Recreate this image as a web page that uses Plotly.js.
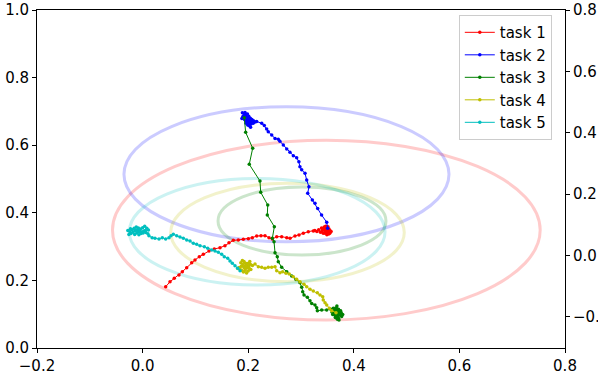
<!DOCTYPE html>
<html>
<head>
<meta charset="utf-8">
<script src="https://cdn.plot.ly/plotly-3.0.1.min.js"></script>
<style>
  html, body { margin: 0; padding: 0; background: #fff; }
  #wykres { width: 598px; height: 376px; }
</style>
</head>
<body>
<div id="wykres"></div>
<script>
// --- dane: trajektorie zadan ---
const nazwy = ["task 1", "task 2", "task 3", "task 4", "task 5"];
const kolory = ["#ff0000", "#0000ff", "#008000", "#bfbf00", "#00bfbf"];

const t1_x = [0.0437, 0.0519, 0.0600, 0.0689, 0.0752, 0.0835, 0.0930, 0.0992, 0.1074, 0.1150, 0.1258, 0.1358,
  0.1466, 0.1560, 0.1636, 0.1718, 0.1813, 0.1908, 0.2002, 0.2078, 0.2161, 0.2242, 0.2318, 0.2394, 0.2457,
  0.2540, 0.2634, 0.2730, 0.2792, 0.2886, 0.2962, 0.3044, 0.3138, 0.3233,
  0.3262, 0.3301, 0.3335, 0.3368, 0.3402, 0.3389, 0.3431, 0.3455, 0.3420, 0.3478, 0.3502, 0.3467, 0.3440,
  0.3512, 0.3540, 0.3525, 0.3490, 0.3455, 0.3480, 0.3515, 0.3548, 0.3570, 0.3545, 0.3505, 0.3470, 0.3495,
  0.3460, 0.3510, 0.3530, 0.3500];
const t1_y = [0.1814, 0.1960, 0.2060, 0.2160, 0.2258, 0.2377, 0.2525, 0.2604, 0.2700, 0.2770, 0.2870, 0.2930,
  0.2968, 0.3027, 0.3116, 0.3186, 0.3195, 0.3215, 0.3235, 0.3264, 0.3314, 0.3323, 0.3323, 0.3264, 0.3225,
  0.3294, 0.3294, 0.3264, 0.3245, 0.3314, 0.3343, 0.3393, 0.3441, 0.3462,
  0.3480, 0.3445, 0.3502, 0.3421, 0.3478, 0.3550, 0.3512, 0.3440, 0.3395, 0.3490, 0.3560, 0.3605, 0.3580,
  0.3455, 0.3410, 0.3372, 0.3350, 0.3392, 0.3432, 0.3500, 0.3480, 0.3445, 0.3395, 0.3420, 0.3470, 0.3530,
  0.3545, 0.3590, 0.3520, 0.3470];

const t2_x = [0.3505, 0.3487, 0.3390, 0.3316, 0.3265, 0.3215, 0.3127, 0.3150, 0.3108, 0.3076, 0.3013, 0.2980,
  0.2960, 0.2918, 0.2855, 0.2790, 0.2730, 0.2665, 0.2600, 0.2570, 0.2508, 0.2445, 0.2380, 0.2350, 0.2305,
  0.2256, 0.2160,
  0.2050, 0.2020, 0.1990, 0.1960, 0.1930, 0.1880, 0.1900, 0.1950, 0.1985, 0.2010, 0.2040, 0.2070, 0.2100,
  0.2130, 0.2095, 0.2060, 0.2000, 0.1970, 0.1925, 0.1890, 0.1940, 0.1995, 0.2030, 0.2005, 0.1975, 0.2015,
  0.2045, 0.1990, 0.1960, 0.1980];
const t2_y = [0.3540, 0.3720, 0.3935, 0.4130, 0.4280, 0.4380, 0.4577, 0.4770, 0.4970, 0.5170, 0.5270, 0.5360,
  0.5510, 0.5630, 0.5690, 0.5790, 0.5890, 0.6006, 0.6120, 0.6175, 0.6200, 0.6300, 0.6400, 0.6480, 0.6580,
  0.6650, 0.6700,
  0.6620, 0.6680, 0.6650, 0.6710, 0.6760, 0.6790, 0.6850, 0.6880, 0.6920, 0.6860, 0.6800, 0.6760, 0.6720,
  0.6690, 0.6650, 0.6700, 0.6760, 0.6820, 0.6900, 0.6960, 0.6970, 0.6800, 0.6740, 0.6700, 0.6740, 0.6580,
  0.6530, 0.6600, 0.6650, 0.6720];

const t3_x = [0.1926, 0.1952, 0.2085, 0.2020, 0.2223, 0.2237, 0.2370, 0.2362, 0.2495, 0.2457, 0.2489, 0.2508,
  0.2551, 0.2570, 0.2634, 0.2730, 0.2824, 0.2905, 0.2980, 0.3013, 0.3032, 0.3057, 0.3120, 0.3170, 0.3203,
  0.3265, 0.3297, 0.3310, 0.3392, 0.3487, 0.3562, 0.3612,
  0.3590, 0.3620, 0.3650, 0.3680, 0.3710, 0.3700, 0.3730, 0.3760, 0.3720, 0.3690, 0.3660, 0.3640, 0.3670,
  0.3700, 0.3740, 0.3770, 0.3790, 0.3750, 0.3710, 0.3680, 0.3630, 0.3600, 0.3650, 0.3690, 0.3720, 0.3700,
  0.3680, 0.3710];
const t3_y = [0.6810, 0.6380, 0.5910, 0.5435, 0.4940, 0.4606, 0.4230, 0.3935, 0.3590, 0.3245, 0.3146, 0.2820,
  0.2700, 0.2554, 0.2387, 0.2258, 0.2130, 0.2030, 0.1930, 0.1795, 0.1666, 0.1568, 0.1500, 0.1400, 0.1320,
  0.1270, 0.1190, 0.1100, 0.1124, 0.1124, 0.1144, 0.1174,
  0.1060, 0.1010, 0.0960, 0.0920, 0.0880, 0.0960, 0.1010, 0.1050, 0.1090, 0.1120, 0.1180, 0.1090, 0.1040,
  0.1030, 0.0970, 0.0930, 0.0990, 0.1100, 0.1150, 0.1240, 0.1150, 0.0990, 0.0900, 0.0850, 0.0830, 0.1000,
  0.1060, 0.1030];

const t4_x = [0.3663, 0.3582, 0.3536, 0.3487, 0.3455, 0.3422, 0.3411, 0.3360, 0.3309, 0.3233, 0.3170, 0.3108,
  0.3057, 0.2980, 0.2918, 0.2854, 0.2778, 0.2716, 0.2653, 0.2602, 0.2540, 0.2508, 0.2445, 0.2380, 0.2318,
  0.2255, 0.2192, 0.2129,
  0.2080, 0.2040, 0.2010, 0.1980, 0.1950, 0.1920, 0.1890, 0.1860, 0.1900, 0.1870, 0.1830, 0.1800, 0.1850,
  0.1880, 0.1910, 0.1940, 0.1960, 0.1990, 0.2020, 0.2050, 0.2000, 0.1970, 0.1930, 0.1960, 0.1990, 0.2030,
  0.1950, 0.1920];
const t4_y = [0.1044, 0.1104, 0.1174, 0.1270, 0.1340, 0.1420, 0.1518, 0.1568, 0.1637, 0.1686, 0.1736, 0.1814,
  0.1884, 0.1962, 0.2032, 0.2110, 0.2190, 0.2210, 0.2258, 0.2229, 0.2288, 0.2406, 0.2387, 0.2387, 0.2357,
  0.2387, 0.2406, 0.2485,
  0.2440, 0.2480, 0.2420, 0.2460, 0.2510, 0.2560, 0.2590, 0.2520, 0.2470, 0.2420, 0.2380, 0.2350, 0.2320,
  0.2290, 0.2250, 0.2300, 0.2360, 0.2390, 0.2350, 0.2320, 0.2280, 0.2220, 0.2400, 0.2440, 0.2500, 0.2560,
  0.2420, 0.2380];

const t5_x = [0.1845, 0.1801, 0.1750, 0.1699, 0.1655, 0.1612, 0.1547, 0.1498, 0.1434, 0.1371, 0.1309, 0.1233,
  0.1169, 0.1087, 0.1024, 0.0960, 0.0898, 0.0835, 0.0771, 0.0708, 0.0646, 0.0582, 0.0538, 0.0500, 0.0437,
  0.0373, 0.0311, 0.0235, 0.0180, 0.0120,
  0.0100, 0.0060, 0.0020, -0.0020, -0.0060, -0.0100, -0.0140, -0.0180, -0.0220, -0.0260, -0.0240, -0.0200,
  -0.0160, -0.0120, -0.0080, -0.0040, 0.0000, 0.0040, 0.0080, 0.0110, 0.0050, -0.0030, -0.0070, -0.0110,
  -0.0150, -0.0280, -0.0230, -0.0050, 0.0010, -0.0090];
const t5_y = [0.2288, 0.2357, 0.2435, 0.2505, 0.2574, 0.2653, 0.2700, 0.2770, 0.2830, 0.2870, 0.2900, 0.2950,
  0.2997, 0.3027, 0.3067, 0.3097, 0.3166, 0.3195, 0.3245, 0.3284, 0.3323, 0.3363, 0.3323, 0.3264, 0.3225,
  0.3264, 0.3225, 0.3245, 0.3260, 0.3320,
  0.3380, 0.3420, 0.3460, 0.3420, 0.3450, 0.3500, 0.3470, 0.3430, 0.3390, 0.3360, 0.3440, 0.3500,
  0.3540, 0.3580, 0.3550, 0.3520, 0.3560, 0.3600, 0.3540, 0.3490, 0.3480, 0.3390, 0.3350, 0.3400,
  0.3360, 0.3480, 0.3530, 0.3480, 0.3400, 0.3440];

// --- elipsy (srodek i polosie) ---
const el_cx = [0.348, 0.2725, 0.3019, 0.2744, 0.217];
const el_cy = [0.349, 0.514, 0.3757, 0.3417, 0.344];
const el_a = [0.405, 0.3078, 0.159, 0.2212, 0.2422];
const el_b = [0.266, 0.1997, 0.1006, 0.1456, 0.1578];

const xs = [t1_x, t2_x, t3_x, t4_x, t5_x];
const ys = [t1_y, t2_y, t3_y, t4_y, t5_y];

const dane = [];
for (let i = 0; i < nazwy.length; i++) {
    dane.push({
        x: xs[i],
        y: ys[i],
        name: nazwy[i],
        type: "scatter",
        mode: "lines+markers",
        line: { color: kolory[i], width: 1 },
        marker: { color: kolory[i], size: 3.5 },
        hoverinfo: "skip"
    });
}
// pusta seria dla prawej osi
dane.push({ x: [], y: [], yaxis: "y2", type: "scatter", mode: "markers", showlegend: false, hoverinfo: "skip" });

const ksztalty = [];
for (let i = 0; i < el_cx.length; i++) {
    ksztalty.push({
        type: "circle",
        xref: "x", yref: "y",
        x0: el_cx[i] - el_a[i], x1: el_cx[i] + el_a[i],
        y0: el_cy[i] - el_b[i], y1: el_cy[i] + el_b[i],
        line: { color: kolory[i], width: 3 },
        opacity: 0.2,
        layer: "below"
    });
}

const czcionka = { family: "DejaVu Sans", size: 15, color: "#000" };
const os = {
    showgrid: false, zeroline: false,
    showline: true, linecolor: "#000", linewidth: 1,
    ticks: "outside", ticklen: 4, tickwidth: 1, tickcolor: "#000",
    tickfont: czcionka
};

const layout = {
    width: 598, height: 376,
    margin: { l: 37, r: 33, t: 10, b: 28 },
    paper_bgcolor: "#fff", plot_bgcolor: "#fff",
    font: czcionka,
    xaxis: Object.assign({}, os, { range: [-0.2, 0.8], tickvals: [-0.2, 0, 0.2, 0.4, 0.6, 0.8], tickformat: ".1f", mirror: true }),
    yaxis: Object.assign({}, os, { range: [0, 1.0], tickvals: [0, 0.2, 0.4, 0.6, 0.8, 1.0], tickformat: ".1f" }),
    yaxis2: Object.assign({}, os, { range: [-0.302, 0.8], overlaying: "y", side: "right", tickvals: [-0.2, 0, 0.2, 0.4, 0.6, 0.8], tickformat: ".1f" }),
    shapes: ksztalty,
    showlegend: true,
    legend: {
        x: 0.975, y: 0.985, xanchor: "right", yanchor: "top",
        bgcolor: "rgba(255,255,255,0.8)", bordercolor: "#cccccc", borderwidth: 1,
        font: czcionka, tracegroupgap: 0
    }
};

Plotly.newPlot("wykres", dane, layout, { displayModeBar: false, staticPlot: true });
</script>
</body>
</html>
